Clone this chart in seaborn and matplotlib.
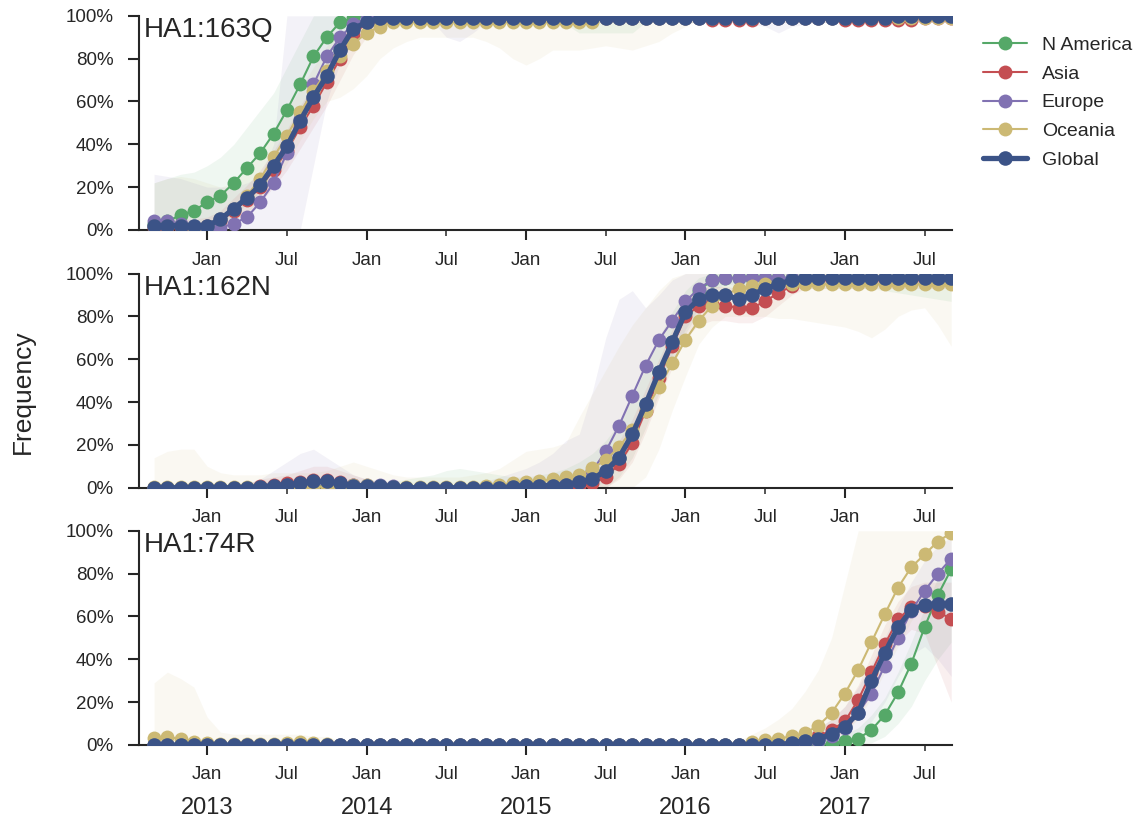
import numpy as np
import pandas as pd
import matplotlib
matplotlib.use("Agg")
import matplotlib.pyplot as plt
import seaborn as sns

# ---------------- data ----------------
months = pd.date_range("2012-09-01", periods=61, freq="MS")
x = np.asarray(months.year + (months.month - 1) / 12.0, dtype=float)

regions = ["N America", "Asia", "Europe", "Oceania"]
region_colors = ["#55A868", "#C44E52", "#8172B2", "#CCB974"]
global_color = "#3B5387"
panel_titles = ["HA1:163Q", "HA1:162N", "HA1:74R"]
years = [2013, 2014, 2015, 2016, 2017]
jan_ticks = [2013.0, 2014.0, 2015.0, 2016.0, 2017.0]
jul_ticks = [2013.5, 2014.5, 2015.5, 2016.5, 2017.5]
y_ticks = [0, 0.2, 0.4, 0.6, 0.8, 1.0]
y_ticklabels = ["0%", "20%", "40%", "60%", "80%", "100%"]

# ---- HA1:163Q (percent) ----
na_163 = [3, 4, 7, 9, 13, 16, 22, 29, 36, 45, 56, 68, 81, 90, 97, 99] + [100] * 45
asia_163 = ([1, 1, 1, 1, 2, 4, 9, 14, 20, 28, 37, 48, 58, 69, 80, 91, 97, 98]
            + [99] * 24 + [98] * 4 + [99] * 6 + [98] * 6 + [99] * 3)
eu_163 = [4, 4, 3, 1, 1, 1, 3, 6, 13, 22, 36, 52, 68, 81, 90, 96, 99, 99] + [100] * 43
oc_163 = [2, 2, 2, 1, 2, 5, 10, 16, 24, 34, 44, 55, 65, 74, 81, 87, 92, 95] + [97] * 16 + [99] * 27
gl_163 = [2, 2, 2, 2, 2, 5, 10, 15, 21, 30, 39, 51, 62, 72, 84, 94, 97, 99] + [99] * 38 + [100] * 5

na_163_lo = [0, 0, 0, 0, 1, 3, 7, 12, 18, 26, 36, 48, 62, 75, 86, 93] + [96] * 16 + [92] * 5 + [97] * 24
na_163_hi = [22, 24, 26, 27, 30, 34, 40, 48, 56, 64, 76, 88] + [100] * 49
asia_163_lo = [0, 0, 0, 0, 0, 1, 4, 8, 13, 20, 28, 38, 48, 58, 70, 82, 90, 94] + [97] * 43
asia_163_hi = [5, 5, 5, 5, 6, 9, 15, 21, 28, 37, 47, 58, 68, 79, 89, 96, 99] + [100] * 44
eu_163_lo = ([0] * 12 + [30, 60, 78, 88, 94, 96, 97, 97, 97, 97] + [90, 88, 92]
             + [97] * 20 + [96, 95, 92, 95, 96] + [97] * 11)
eu_163_hi = [26, 25, 24, 22, 20, 20, 20, 22, 25, 40] + [100] * 51
oc_163_lo = ([0, 0, 0, 0, 0, 1, 4, 8, 14, 22, 31, 42, 52, 60]
             + [62, 66, 72, 80, 85, 88, 90, 90, 90, 90, 90, 88, 85, 80, 77, 80, 84, 84, 84,
                85, 86, 85, 84, 86, 88, 92, 95] + [98] * 20)
oc_163_hi = [22, 24, 25, 24, 22, 20, 22, 28, 36, 46, 56, 66, 76, 86, 92, 96, 99] + [100] * 44

# ---- HA1:162N (percent) ----
na_162 = ([0] * 8 + [0, 0, 0.5, 0.5, 1, 1, 1, 0.5, 0.5, 0, 0] + [0] * 9 + [0.5, 1, 1, 1.5]
          + [2, 4, 8, 14, 25, 39, 54, 68, 82, 92, 97, 98, 98, 98, 98, 98, 98] + [98] * 12)
asia_162 = ([0] * 8 + [1, 1.5, 2, 2.5, 3.5, 3.5, 2.5, 1.5, 1, 0.5, 0.5] + [0] * 9 + [0.5] * 4
            + [1, 2, 5, 11, 21, 36, 51, 66, 80, 85, 86, 85, 84, 84, 87, 91, 94] + [97] * 12)
eu_162 = ([0] * 8 + [0, 0.5, 1, 1.5, 2, 2, 2, 1.5, 1.5, 1.5, 1] + [0] * 9 + [0.5, 1, 1.5, 2]
          + [4, 8, 17, 29, 43, 57, 69, 78, 87, 93, 97, 98, 98, 98, 98, 98, 98] + [98] * 12)
oc_162 = ([0.5] * 8 + [0.5, 0.5, 0.5, 0.5, 0.5, 0.5, 1, 1.5, 1.5, 1, 0.5]
          + [0.5, 0.5, 0.5, 0.5, 0.5, 0.5, 1, 1.5, 2, 2.5, 3, 4, 5]
          + [6, 9, 13, 19, 27, 36, 47, 58, 69, 78, 85, 90, 93, 94, 95, 95, 95] + [95] * 12)
gl_162 = ([0] * 8 + [0.5, 1, 1.5, 2, 3, 3, 2, 1, 1, 1, 0.5] + [0] * 8 + [0.5, 1, 1, 1, 1.5]
          + [2.5, 4, 8, 14, 25, 39, 54, 68, 82, 88, 90, 90, 88, 90, 93, 95, 97] + [98] * 12)

na_162_lo = [0] * 35 + [5, 14, 28, 44, 58, 72, 82, 88, 90, 92] + [93] * 10 + [92, 91, 90, 89, 88, 87]
na_162_hi = ([2] * 8 + [3, 3, 4, 4, 4, 3, 3, 3, 3, 3, 3] + [4, 5, 6, 8, 9, 8, 7, 6, 5, 5, 6, 7, 9]
             + [12, 16, 22, 30, 42, 56, 70, 82, 92, 98] + [100] * 19)
asia_162_lo = [0] * 35 + [4, 12, 26, 42, 56, 70, 76, 78, 78, 77, 77, 80, 85, 90] + [93] * 12
asia_162_hi = ([1] * 7 + [2, 4, 5, 6, 8, 10, 10, 8, 6, 4, 3, 2] + [1] * 11
               + [2, 3, 5, 8, 14, 22, 32, 46, 60, 74, 88, 93, 94, 94, 93, 93, 95, 97, 99] + [100] * 12)
eu_162_lo = [0] * 34 + [3, 10, 20, 35, 50, 62, 74, 84, 92] + [95] * 18
eu_162_hi = ([1, 1, 1, 1, 1, 1, 1, 2, 4, 8] + [12, 16, 18, 14, 10] + [6, 4, 3, 2]
             + [1, 1, 1, 1, 1, 2, 3, 5, 7, 9, 12, 16, 22] + [25, 45, 70, 88, 92, 84, 90, 97] + [100] * 21)
oc_162_lo = ([0] * 37 + [5, 18, 36, 52, 67, 75, 80, 80, 80, 80, 79, 79, 78, 77, 76, 75, 73, 70,
                         74, 80, 83, 84, 76, 66])
oc_162_hi = ([14, 17, 18, 18, 10, 7, 6, 6, 6] + [7, 7, 7, 7, 8, 10, 12, 10, 8, 6]
             + [5, 5, 5, 5, 5, 6, 7, 9, 13] + [17, 18, 19, 21]
             + [33, 44, 55, 66, 76, 84, 92, 98] + [100] * 21)

# ---- HA1:74R (percent) ----
na_74 = [0] * 51 + [0.5, 2, 3, 7, 14, 24.5, 38, 55, 70, 82]
asia_74 = [0] * 48 + [1, 2, 4, 7, 11, 21, 34, 47, 58.6, 64.5, 65, 62, 59]
eu_74 = [0] * 48 + [0.5, 1, 2, 4, 8, 15, 24, 37, 50, 62.5, 72, 80, 87]
oc_74 = ([3.2, 3.7, 2.9, 1.6, 1, 0.5, 0.4, 0.4, 0.4, 0.5, 0.8, 1.2, 1, 0.5] + [0] * 31
         + [1.5, 2.3, 3, 4, 5.6, 9, 15, 24, 35, 48, 61, 73.5, 83, 89, 95, 99])
gl_74 = [0] * 48 + [1, 2, 3, 5, 8.6, 15, 30, 43, 55, 63, 65.5, 66, 66]

na_74_lo = [0] * 54 + [1, 4, 10, 18, 30, 40, 48]
na_74_hi = [0] * 49 + [1, 2, 3, 5, 8, 14, 22, 34, 48, 64, 78, 88]
asia_74_lo = [0] * 50 + [1, 3, 6, 13, 24, 37, 48, 54, 52, 36, 20]
asia_74_hi = [0] * 46 + [1, 2, 3, 5, 8, 12, 18, 28, 42, 56, 67, 74, 76, 76, 76]
eu_74_lo = [0] * 52 + [1, 5, 11, 20, 32, 42, 46, 40, 32]
eu_74_hi = [0] * 46 + [1, 2, 3, 5, 8, 12, 18, 27, 38, 50, 64, 76, 86, 93, 97]
oc_74_lo = [0] * 51 + [2, 6, 12, 22, 34, 46, 58, 66, 74, 80]
oc_74_hi = ([29, 34, 31, 27, 13, 6, 5, 5, 5, 5, 5, 5, 4, 4] + [2] * 31
            + [5, 8, 12, 17, 25, 35, 50, 75] + [100] * 8)

panels = [
    dict(title=panel_titles[0],
         series=[na_163, asia_163, eu_163, oc_163], glob=gl_163,
         bands=[(na_163_lo, na_163_hi), (asia_163_lo, asia_163_hi),
                (eu_163_lo, eu_163_hi), (oc_163_lo, oc_163_hi)]),
    dict(title=panel_titles[1],
         series=[na_162, asia_162, eu_162, oc_162], glob=gl_162,
         bands=[(na_162_lo, na_162_hi), (asia_162_lo, asia_162_hi),
                (eu_162_lo, eu_162_hi), (oc_162_lo, oc_162_hi)]),
    dict(title=panel_titles[2],
         series=[na_74, asia_74, eu_74, oc_74], glob=gl_74,
         bands=[(na_74_lo, na_74_hi), (asia_74_lo, asia_74_hi),
                (eu_74_lo, eu_74_hi), (oc_74_lo, oc_74_hi)]),
]

# ---------------- style ----------------
sns.set_style("ticks")
plt.rcParams["font.family"] = ["Liberation Sans", "DejaVu Sans"]
plt.rcParams["axes.edgecolor"] = "#262626"
plt.rcParams["text.color"] = "#262626"

fig = plt.figure(figsize=(11.38, 8.19), dpi=100)
L, W, H = 0.1224, 0.7139, 0.2615
bottoms = [0.7192, 0.4045, 0.0904]

axes = []
for p, b in zip(panels, bottoms):
    ax = fig.add_axes([L, b, W, H])
    axes.append(ax)
    for (lo, hi), col in zip(p["bands"], region_colors):
        ax.fill_between(x, np.array(lo) / 100.0, np.array(hi) / 100.0,
                        color=col, alpha=0.09, lw=0, zorder=1)
    for vals, name, col in zip(p["series"], regions, region_colors):
        sns.lineplot(x=x, y=np.array(vals) / 100.0, ax=ax, color=col, lw=1.5,
                     marker="o", markersize=10, markeredgewidth=0,
                     estimator=None, errorbar=None, label=name, legend=False, zorder=3)
    sns.lineplot(x=x, y=np.array(p["glob"]) / 100.0, ax=ax, color=global_color, lw=3.8,
                 marker="o", markersize=10.5, markeredgewidth=0,
                 estimator=None, errorbar=None, label="Global", legend=False, zorder=4)

    ax.set_xlim(2012.574, 2017.67)
    ax.set_ylim(0, 1)
    ax.set_xlabel("")
    ax.set_ylabel("")
    ax.set_xticks(jan_ticks)
    ax.set_xticklabels(["Jan"] * len(jan_ticks))
    ax.set_xticks(jul_ticks, minor=True)
    ax.set_xticklabels(["Jul"] * len(jul_ticks), minor=True)
    ax.set_yticks(y_ticks)
    ax.set_yticklabels(y_ticklabels)
    ax.tick_params(axis="x", which="major", length=7.2, width=1.5, pad=8.3, labelsize=13.5)
    ax.tick_params(axis="x", which="minor", length=4.3, width=1.1, pad=11.2, labelsize=13.5)
    ax.tick_params(axis="y", which="major", length=8, width=1.5, pad=10.5, labelsize=13.5)
    sns.despine(ax=ax)
    for s in ["left", "bottom"]:
        ax.spines[s].set_linewidth(1.5)
    ax.text(0.006, 0.995, p["title"], transform=ax.transAxes, ha="left", va="top",
            fontsize=20, zorder=6)
    if ax.get_legend() is not None:
        ax.get_legend().remove()

# year labels under the bottom panel
bax = axes[-1]
for yr in years:
    bax.text(yr, -0.293, str(yr), transform=bax.get_xaxis_transform(),
             ha="center", va="center", fontsize=17)

fig.text(0.0202, 0.5214, "Frequency", rotation=90, ha="center", va="center", fontsize=19)

handles, labels = axes[0].get_legend_handles_labels()
fig.legend(handles, labels, loc="upper left", bbox_to_anchor=(0.857, 0.965),
           frameon=False, fontsize=14, handlelength=2.25, handletextpad=0.77,
           labelspacing=0.57, borderaxespad=0)

fig.savefig("out.png", dpi=100)
